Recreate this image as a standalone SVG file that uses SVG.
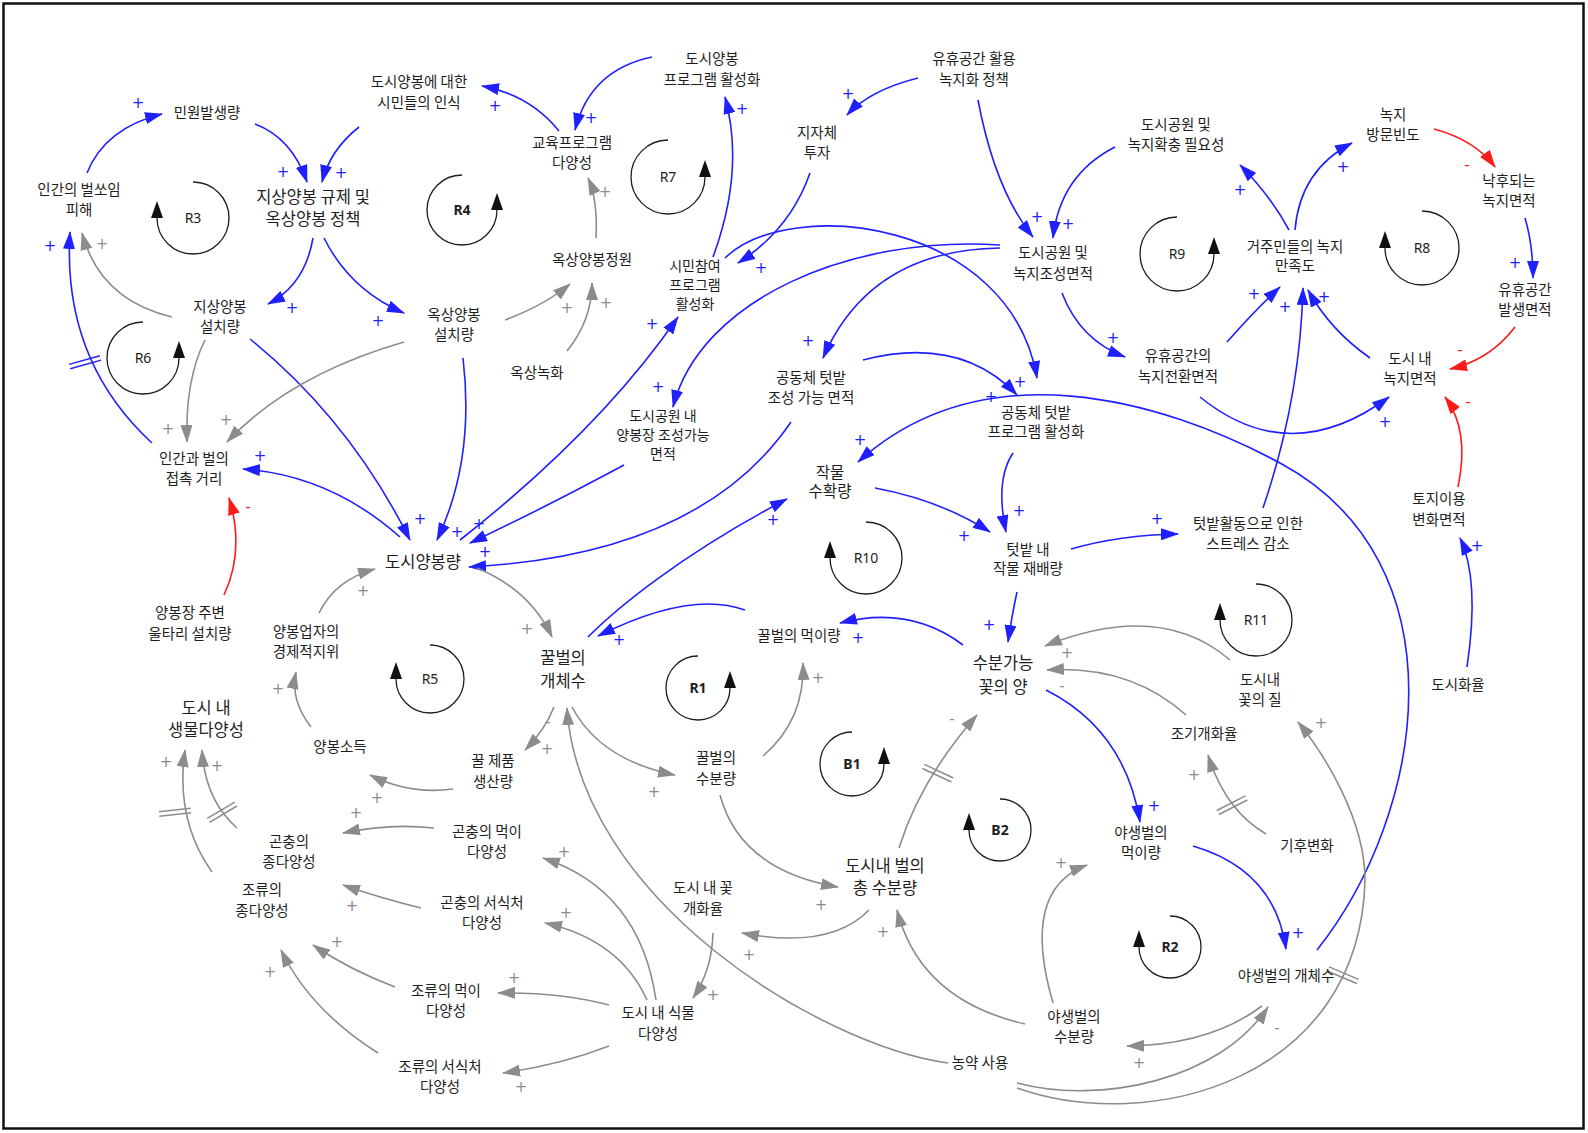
<svg xmlns="http://www.w3.org/2000/svg" width="1588" height="1133" viewBox="0 0 1588 1133">
<defs>
<style>
.t{font-family:"Noto Sans CJK KR","Noto Sans",sans-serif;font-size:14.5px;fill:#1e1e1e;text-anchor:middle}
.tl{font-size:16.5px}
.t3{font-size:14px}
.c{fill:none;stroke-width:1.6}
.b{stroke:#2020ff}
.g{stroke:#8c8c8c}
.r{stroke:#ff1a1a}
.lp{fill:none;stroke:#1e1e1e;stroke-width:1.3}
.ll{font-family:"Noto Sans","DejaVu Sans",sans-serif;font-size:14px;fill:#1e1e1e;text-anchor:middle}
.bd{font-weight:bold}
.sp{font-family:"DejaVu Sans",sans-serif;font-size:15px;text-anchor:middle}
.sb{fill:#2020ff}.sg{fill:#8c8c8c}.sr{fill:#ff1a1a}
.h line{stroke-width:1.5}
</style>
<marker id="ab" viewBox="0 0 18 12" refX="17" refY="6" markerWidth="18" markerHeight="12" markerUnits="userSpaceOnUse" orient="auto"><path d="M0,0 L18,6 L0,12 z" fill="#2020ff"/></marker>
<marker id="ag" viewBox="0 0 18 12" refX="17" refY="6" markerWidth="18" markerHeight="12" markerUnits="userSpaceOnUse" orient="auto"><path d="M0,0 L18,6 L0,12 z" fill="#8c8c8c"/></marker>
<marker id="ar" viewBox="0 0 18 12" refX="17" refY="6" markerWidth="18" markerHeight="12" markerUnits="userSpaceOnUse" orient="auto"><path d="M0,0 L18,6 L0,12 z" fill="#ff1a1a"/></marker>
<marker id="al" viewBox="0 0 17 12" refX="0" refY="6" markerWidth="17" markerHeight="12" markerUnits="userSpaceOnUse" orient="auto"><path d="M0,0 L17,6 L0,12 z" fill="#111"/></marker>
</defs>
<rect x="3.5" y="3.5" width="1580" height="1125" fill="#fff" stroke="#111" stroke-width="2.5"/>

<g id="connectors">
<g class="c b" marker-end="url(#ab)">
<path d="M87,173 Q105,128 162,114"/>
<path d="M255,124 Q292,138 307,182"/>
<path d="M359,127 Q330,150 322,182"/>
<path d="M313,238 Q305,285 268,304"/>
<path d="M324,238 Q350,290 404,313"/>
<path d="M152,443 Q62,360 70,232"/>
<path d="M250,339 Q350,420 410,540"/>
<path d="M463,358 Q475,460 437,540"/>
<path d="M460,540 Q600,430 678,317"/>
<path d="M624,465 Q540,510 470,543"/>
<path d="M791,422 Q700,555 469,567"/>
<path d="M400,537 Q330,475 243,469"/>
<path d="M588,637 C615,610 680,555 787,499"/>
<path d="M745,610 Q690,590 598,636"/>
<path d="M963,645 Q910,605 840,623"/>
<path d="M559,131 Q530,95 482,86"/>
<path d="M652,57 Q590,70 575,130"/>
<path d="M713,257 Q745,170 725,97"/>
<path d="M810,173 Q790,230 738,263"/>
<path d="M725,258 C790,195 1010,220 1037,378"/>
<path d="M1000,248 Q870,250 823,358"/>
<path d="M1000,245 C850,235 700,300 673,407"/>
<path d="M918,78 Q870,90 847,115"/>
<path d="M978,100 Q995,190 1033,237"/>
<path d="M1115,147 Q1060,175 1053,238"/>
<path d="M1062,293 Q1080,340 1125,357"/>
<path d="M863,360 Q960,335 1017,395"/>
<path d="M1289,230 Q1270,195 1240,165"/>
<path d="M1295,230 Q1300,170 1352,143"/>
<path d="M1525,218 Q1533,245 1533,278"/>
<path d="M1227,342 Q1255,310 1280,287"/>
<path d="M1263,508 Q1300,400 1303,288"/>
<path d="M1370,358 Q1330,330 1308,290"/>
<path d="M1200,397 Q1290,470 1389,397"/>
<path d="M1467,667 Q1480,580 1460,538"/>
<path d="M1317,950 C1427,811 1464,562 1280,463 C1160,398.5 983,349.5 858,462"/>
<path d="M1071,549 Q1120,535 1178,534"/>
<path d="M1013,453 Q995,480 1006,532"/>
<path d="M875,488 Q940,500 990,532"/>
<path d="M1017,592 Q1012,615 1008,642"/>
<path d="M1046,690 Q1125,730 1140,822"/>
<path d="M1193,846 Q1275,870 1286,949"/>
</g>
<g class="c g" marker-end="url(#ag)">
<path d="M172,317 Q100,300 82,233"/>
<path d="M205,340 Q185,380 187,442"/>
<path d="M404,342 Q290,375 227,442"/>
<path d="M477,568 Q530,590 552,637"/>
<path d="M763,756 Q805,720 803,663"/>
<path d="M596,238 Q598,200 588,178"/>
<path d="M505,320 Q545,305 570,284"/>
<path d="M567,351 Q592,320 592,283"/>
<path d="M1230,660 Q1160,600 1045,646"/>
<path d="M1186,715 Q1130,665 1047,670"/>
<path d="M899,848 Q920,780 977,715"/>
<path d="M1266,834 Q1225,810 1208,755"/>
<path d="M1017,1083 C1100,1105 1220,1080 1268,1007"/>
<path d="M1017,1088 C1150,1135 1360,1080 1365,880 C1365,820 1325,755 1298,722"/>
<path d="M1262,1006 Q1210,1045 1127,1046"/>
<path d="M1053,1003 Q1020,890 1087,865"/>
<path d="M1025,1024 Q920,1000 897,910"/>
<path d="M720,795 Q740,870 838,887"/>
<path d="M869,910 Q830,950 742,933"/>
<path d="M713,933 Q712,970 693,998"/>
<path d="M948,1063 C820,1045 580,900 567,708"/>
<path d="M554,707 Q545,730 525,750"/>
<path d="M572,707 Q600,760 675,775"/>
<path d="M453,789 Q410,795 370,775"/>
<path d="M311,727 Q290,700 296,672"/>
<path d="M319,613 Q335,580 375,569"/>
<path d="M434,828 Q390,823 343,833"/>
<path d="M421,908 Q380,898 343,885"/>
<path d="M395,987 Q350,970 313,945"/>
<path d="M378,1053 Q310,1010 281,950"/>
<path d="M237,828 Q205,800 202,750"/>
<path d="M212,872 Q175,820 185,750"/>
<path d="M656,1000 Q640,890 543,858"/>
<path d="M647,1000 Q620,940 545,923"/>
<path d="M609,1005 Q560,992 498,993"/>
<path d="M609,1046 Q560,1065 503,1073"/>
</g>
<g class="c r" marker-end="url(#ar)">
<path d="M1434,129 Q1475,140 1495,167"/>
<path d="M1515,327 Q1490,360 1450,369"/>
<path d="M1458,487 Q1470,430 1445,397"/>
<path d="M224,595 Q245,550 229,498"/>
</g>
<g class="h b">
<g transform="translate(85,362) rotate(-15.5)"><line x1="-16" y1="-2" x2="16" y2="-2"/><line x1="-16" y1="2.5" x2="16" y2="2.5"/></g>
</g>
<g class="h g">
<g transform="translate(938,773) rotate(25)"><line x1="-16" y1="-2" x2="16" y2="-2"/><line x1="-16" y1="2.5" x2="16" y2="2.5"/></g>
<g transform="translate(1232,805) rotate(-27)"><line x1="-16" y1="-2" x2="16" y2="-2"/><line x1="-16" y1="2.5" x2="16" y2="2.5"/></g>
<g transform="translate(1343,975) rotate(23)"><line x1="-16" y1="-2" x2="16" y2="-2"/><line x1="-16" y1="2.5" x2="16" y2="2.5"/></g>
<g transform="translate(175,812) rotate(-6)"><line x1="-16" y1="-2" x2="16" y2="-2"/><line x1="-16" y1="2.5" x2="16" y2="2.5"/></g>
<g transform="translate(222,812) rotate(-30.6)"><line x1="-16" y1="-2" x2="16" y2="-2"/><line x1="-16" y1="2.5" x2="16" y2="2.5"/></g>
</g>
</g>

<g id="signs" class="sp">
<g class="sb">
<text x="138" y="108">+</text><text x="283" y="177">+</text><text x="341" y="178">+</text><text x="292" y="313">+</text><text x="378" y="326">+</text><text x="50" y="251">+</text><text x="260" y="461">+</text><text x="420" y="524">+</text><text x="457" y="537">+</text><text x="479" y="529">+</text><text x="485" y="557">+</text><text x="495" y="111">+</text><text x="591" y="123">+</text><text x="742" y="114">+</text><text x="652" y="329">+</text><text x="761" y="273">+</text><text x="848" y="99">+</text><text x="1037" y="222">+</text><text x="1068" y="229">+</text><text x="1113" y="343">+</text><text x="808" y="346">+</text><text x="658" y="392">+</text><text x="991" y="402">+</text><text x="1020" y="387">+</text><text x="860" y="445">+</text><text x="773" y="525">+</text><text x="619" y="645">+</text><text x="858" y="643">+</text><text x="1240" y="195">+</text><text x="1343" y="172">+</text><text x="1515" y="268">+</text><text x="1254" y="299">+</text><text x="1285" y="312">+</text><text x="1324" y="302">+</text><text x="1385" y="427">+</text><text x="1477" y="551">+</text><text x="1157" y="524">+</text><text x="1019" y="516">+</text><text x="964" y="541">+</text><text x="989" y="630">+</text><text x="1154" y="811">+</text><text x="1298" y="938">+</text>
</g>
<g class="sg">
<text x="102" y="249">+</text><text x="168" y="434">+</text><text x="226" y="425">+</text><text x="605" y="197">+</text><text x="567" y="313">+</text><text x="606" y="308">+</text><text x="527" y="634">+</text><text x="818" y="683">+</text><text x="547" y="754">+</text><text x="654" y="797">+</text><text x="377" y="803">+</text><text x="278" y="694">+</text><text x="363" y="596">+</text><text x="356" y="818">+</text><text x="352" y="911">+</text><text x="337" y="947">+</text><text x="270" y="977">+</text><text x="217" y="771">+</text><text x="166" y="767">+</text><text x="564" y="857">+</text><text x="566" y="918">+</text><text x="514" y="983">+</text><text x="521" y="1092">+</text><text x="713" y="1000">+</text><text x="749" y="960">+</text><text x="821" y="910">+</text><text x="883" y="937">+</text><text x="1061" y="868">+</text><text x="1139" y="1068">+</text><text x="1067" y="658">+</text><text x="1194" y="780">+</text><text x="1321" y="728">+</text>
<text x="1062" y="691">-</text><text x="952" y="724">-</text><text x="1277" y="1033">-</text><text x="548" y="727">-</text>
</g>
<g class="sr">
<text x="1467" y="170">-</text><text x="1460" y="355">-</text><text x="1468" y="407">-</text><text x="248" y="512">-</text>
</g>
</g>

<g id="loops">
<g id="loop-R3"><path class="lp" marker-end="url(#al)" d="M193,182 A36,36 0 1 1 157,218"/><text class="ll" x="193" y="223">R3</text></g>
<g id="loop-R4"><path class="lp" marker-end="url(#al)" d="M462,175 A35,35 0 1 0 497,210"/><text class="ll bd" x="462" y="215">R4</text></g>
<g id="loop-R7"><path class="lp" marker-end="url(#al)" d="M668,140 A37,37 0 1 0 705,177"/><text class="ll" x="668" y="182">R7</text></g>
<g id="loop-R6"><path class="lp" marker-end="url(#al)" d="M143,322 A36,36 0 1 0 179,358"/><text class="ll" x="143" y="363">R6</text></g>
<g id="loop-R5"><path class="lp" marker-end="url(#al)" d="M430,645 A34,34 0 1 1 396,679"/><text class="ll" x="430" y="684">R5</text></g>
<g id="loop-R1"><path class="lp" marker-end="url(#al)" d="M698,656 A32,32 0 1 0 730,688"/><text class="ll bd" x="698" y="693">R1</text></g>
<g id="loop-R10"><path class="lp" marker-end="url(#al)" d="M866,522 A36,36 0 1 1 830,558"/><text class="ll" x="866" y="563">R10</text></g>
<g id="loop-R9"><path class="lp" marker-end="url(#al)" d="M1177,217 A37,37 0 1 0 1214,254"/><text class="ll" x="1177" y="259">R9</text></g>
<g id="loop-R8"><path class="lp" marker-end="url(#al)" d="M1422,211 A37,37 0 1 1 1385,248"/><text class="ll" x="1422" y="253">R8</text></g>
<g id="loop-R11"><path class="lp" marker-end="url(#al)" d="M1256,584 A36,36 0 1 1 1220,620"/><text class="ll" x="1256" y="625">R11</text></g>
<g id="loop-B1"><path class="lp" marker-end="url(#al)" d="M852,732 A32,32 0 1 0 884,764"/><text class="ll bd" x="852" y="769">B1</text></g>
<g id="loop-B2"><path class="lp" marker-end="url(#al)" d="M1000,799 A31,31 0 1 1 969,830"/><text class="ll bd" x="1000" y="835">B2</text></g>
<g id="loop-R2"><path class="lp" marker-end="url(#al)" d="M1170,916 A31,31 0 1 1 1139,947"/><text class="ll bd" x="1170" y="952">R2</text></g>
</g>

<g id="nodes">
<g id="n1"><text class="t" x="207" y="118">민원발생량</text></g>
<g id="n2"><text class="t"><tspan x="79" y="195">인간의 벌쏘임</tspan><tspan x="79" y="215">피해</tspan></text></g>
<g id="n3"><text class="t tl"><tspan x="313" y="203">지상양봉 규제 및</tspan><tspan x="313" y="225">옥상양봉 정책</tspan></text></g>
<g id="n4"><text class="t"><tspan x="220" y="312">지상양봉</tspan><tspan x="220" y="332">설치량</tspan></text></g>
<g id="n5"><text class="t"><tspan x="454" y="320">옥상양봉</tspan><tspan x="454" y="340">설치량</tspan></text></g>
<g id="n6"><text class="t"><tspan x="419" y="87">도시양봉에 대한</tspan><tspan x="419" y="108">시민들의 인식</tspan></text></g>
<g id="n7"><text class="t"><tspan x="712" y="64">도시양봉</tspan><tspan x="712" y="85">프로그램 활성화</tspan></text></g>
<g id="n8"><text class="t"><tspan x="572" y="148">교육프로그램</tspan><tspan x="572" y="168">다양성</tspan></text></g>
<g id="n9"><text class="t" x="592" y="265">옥상양봉정원</text></g>
<g id="n10"><text class="t t3"><tspan x="695" y="271">시민참여</tspan><tspan x="695" y="290">프로그램</tspan><tspan x="695" y="309">활성화</tspan></text></g>
<g id="n11"><text class="t" x="537" y="378">옥상녹화</text></g>
<g id="n12"><text class="t"><tspan x="974" y="64">유휴공간 활용</tspan><tspan x="974" y="85">녹지화 정책</tspan></text></g>
<g id="n13"><text class="t"><tspan x="817" y="138">지자체</tspan><tspan x="817" y="158">투자</tspan></text></g>
<g id="n14"><text class="t"><tspan x="1176" y="130">도시공원 및</tspan><tspan x="1176" y="150">녹지확충 필요성</tspan></text></g>
<g id="n15"><text class="t"><tspan x="1053" y="258">도시공원 및</tspan><tspan x="1053" y="279">녹지조성면적</tspan></text></g>
<g id="n16"><text class="t"><tspan x="1393" y="120">녹지</tspan><tspan x="1393" y="140">방문빈도</tspan></text></g>
<g id="n17"><text class="t"><tspan x="1509" y="186">낙후되는</tspan><tspan x="1509" y="206">녹지면적</tspan></text></g>
<g id="n18"><text class="t"><tspan x="1295" y="252">거주민들의 녹지</tspan><tspan x="1295" y="271">만족도</tspan></text></g>
<g id="n19"><text class="t"><tspan x="1525" y="295">유휴공간</tspan><tspan x="1525" y="315">발생면적</tspan></text></g>
<g id="n20"><text class="t"><tspan x="1410" y="364">도시 내</tspan><tspan x="1410" y="384">녹지면적</tspan></text></g>
<g id="n21"><text class="t"><tspan x="1178" y="361">유휴공간의</tspan><tspan x="1178" y="382">녹지전환면적</tspan></text></g>
<g id="n22"><text class="t"><tspan x="811" y="383">공동체 텃밭</tspan><tspan x="811" y="403">조성 가능 면적</tspan></text></g>
<g id="n23"><text class="t t3"><tspan x="663" y="421">도시공원 내</tspan><tspan x="663" y="440">양봉장 조성가능</tspan><tspan x="663" y="459">면적</tspan></text></g>
<g id="n24"><text class="t"><tspan x="1036" y="418">공동체 텃밭</tspan><tspan x="1036" y="437">프로그램 활성화</tspan></text></g>
<g id="n25"><text class="t" style="font-size:15.5px"><tspan x="830" y="478">작물</tspan><tspan x="830" y="497">수확량</tspan></text></g>
<g id="n26"><text class="t"><tspan x="1028" y="555">텃밭 내</tspan><tspan x="1028" y="574">작물 재배량</tspan></text></g>
<g id="n27"><text class="t"><tspan x="1248" y="529">텃밭활동으로 인한</tspan><tspan x="1248" y="549">스트레스 감소</tspan></text></g>
<g id="n28"><text class="t"><tspan x="1439" y="504">토지이용</tspan><tspan x="1439" y="525">변화면적</tspan></text></g>
<g id="n29"><text class="t tl" x="423" y="568">도시양봉량</text></g>
<g id="n30"><text class="t"><tspan x="194" y="464">인간과 벌의</tspan><tspan x="194" y="484">접촉 거리</tspan></text></g>
<g id="n31"><text class="t"><tspan x="190" y="618">양봉장 주변</tspan><tspan x="190" y="639">울타리 설치량</tspan></text></g>
<g id="n32"><text class="t"><tspan x="306" y="637">양봉업자의</tspan><tspan x="306" y="657">경제적지위</tspan></text></g>
<g id="n33"><text class="t tl"><tspan x="206" y="714">도시 내</tspan><tspan x="206" y="736">생물다양성</tspan></text></g>
<g id="n34"><text class="t" x="340" y="752">양봉소득</text></g>
<g id="n35"><text class="t tl"><tspan x="563" y="664">꿀벌의</tspan><tspan x="563" y="687">개체수</tspan></text></g>
<g id="n36"><text class="t" x="799" y="641">꿀벌의 먹이량</text></g>
<g id="n37"><text class="t tl"><tspan x="1003" y="669">수분가능</tspan><tspan x="1003" y="693">꽃의 양</tspan></text></g>
<g id="n38"><text class="t"><tspan x="1260" y="685">도시내</tspan><tspan x="1260" y="705">꽃의 질</tspan></text></g>
<g id="n39"><text class="t" x="1204" y="739">조기개화율</text></g>
<g id="n40"><text class="t" x="1307" y="851">기후변화</text></g>
<g id="n41"><text class="t"><tspan x="493" y="766">꿀 제품</tspan><tspan x="493" y="787">생산량</tspan></text></g>
<g id="n42"><text class="t"><tspan x="487" y="837">곤충의 먹이</tspan><tspan x="487" y="857">다양성</tspan></text></g>
<g id="n43"><text class="t"><tspan x="482" y="908">곤충의 서식처</tspan><tspan x="482" y="928">다양성</tspan></text></g>
<g id="n44"><text class="t"><tspan x="446" y="996">조류의 먹이</tspan><tspan x="446" y="1016">다양성</tspan></text></g>
<g id="n45"><text class="t"><tspan x="440" y="1072">조류의 서식처</tspan><tspan x="440" y="1092">다양성</tspan></text></g>
<g id="n46"><text class="t"><tspan x="658" y="1018">도시 내 식물</tspan><tspan x="658" y="1039">다양성</tspan></text></g>
<g id="n47"><text class="t"><tspan x="716" y="763">꿀벌의</tspan><tspan x="716" y="784">수분량</tspan></text></g>
<g id="n48"><text class="t"><tspan x="703" y="893">도시 내 꽃</tspan><tspan x="703" y="914">개화율</tspan></text></g>
<g id="n49"><text class="t"><tspan x="289" y="847">곤충의</tspan><tspan x="289" y="867">종다양성</tspan></text></g>
<g id="n50"><text class="t"><tspan x="262" y="895">조류의</tspan><tspan x="262" y="916">종다양성</tspan></text></g>
<g id="n51"><text class="t tl"><tspan x="885" y="872">도시내 벌의</tspan><tspan x="885" y="894">총 수분량</tspan></text></g>
<g id="n52"><text class="t"><tspan x="1141" y="838">야생벌의</tspan><tspan x="1141" y="858">먹이량</tspan></text></g>
<g id="n53"><text class="t"><tspan x="1074" y="1022">야생벌의</tspan><tspan x="1074" y="1042">수분량</tspan></text></g>
<g id="n54"><text class="t" x="980" y="1068">농약 사용</text></g>
<g id="n55"><text class="t" x="1286" y="981">야생벌의 개체수</text></g>
<g id="n56"><text class="t" x="1458" y="690">도시화율</text></g>
</g>
</svg>
